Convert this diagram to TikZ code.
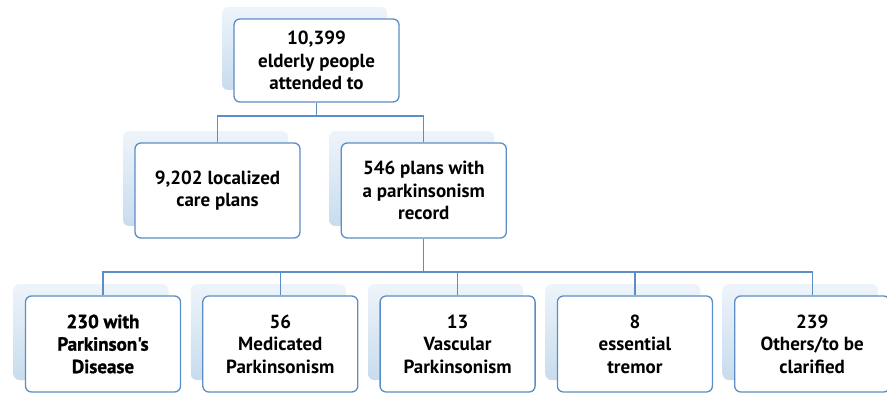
\documentclass[tikz,border=0pt]{standalone}
\usepackage{fontspec}
\setmainfont{PT Sans}
\newfontfamily\heavyfont[FakeBold=1.2]{PT Sans Bold}
\usetikzlibrary{positioning, shadows}

\definecolor{boxblue}{HTML}{5B8EC4}
\definecolor{shadetop}{HTML}{EEF4FA}
\definecolor{shadebot}{HTML}{C8DCEE}

\begin{document}
\begin{tikzpicture}[x=1pt, y=1pt, node distance=40pt and 21pt, font=\bfseries\fontsize{19}{22.5}\selectfont]

% --- Styles ---
\tikzset{
    planbox/.style={rectangle, rounded corners=6pt, draw=boxblue, line width=1.3pt, fill=white,
        align=center, minimum width=165pt, minimum height=95pt, inner sep=2pt,
        general shadow={shadow xshift=-12pt, shadow yshift=12pt, draw=none, top color=shadetop, bottom color=shadebot}},
    leafbox/.style={planbox, minimum width=155pt, minimum height=96pt},
    heavy/.style={font=\heavyfont\fontsize{19}{22.5}\selectfont},
    link/.style={draw=boxblue, line width=1.3pt},
}
\useasboundingbox (0,0) rectangle (887,-393);

% --- Row 1: all elderly people ---
\node[planbox, minimum height=83pt] (total) at (316.5,-60.5) {10,399\\elderly people\\attended to};

% --- Row 2: care plans ---
\node[planbox] (local) at (217.5,-190.5) {9,202 localized\\care plans};
\node[planbox, right=40pt of local] (park) {546 plans with\\a parkinsonism\\record};

% --- Row 3: diagnoses ---
\node[leafbox, heavy] (pd) at (103,-344) {230 with\\Parkinson's\\Disease};
\node[leafbox, right=of pd] (med) {56\\Medicated\\Parkinsonism};
\node[leafbox, right=of med] (vasc) {13\\Vascular\\Parkinsonism};
\node[leafbox, right=of vasc] (tremor) {8\\essential\\tremor};
\node[leafbox, right=of tremor] (other) {239\\Others/to be\\clarified};

% --- Connectors ---
\coordinate (fork1) at (316.5,-116);
\coordinate (fork2) at (park |- 0,-272);
\draw[link] (total) -- (fork1);
\draw[link] (fork1) -| (local);
\draw[link] (fork1) -| (park);
\draw[link] (park) -- (fork2);
\foreach \leaf in {pd, med, vasc, tremor, other}
    \draw[link] (fork2) -| (\leaf);

\end{tikzpicture}
\end{document}
